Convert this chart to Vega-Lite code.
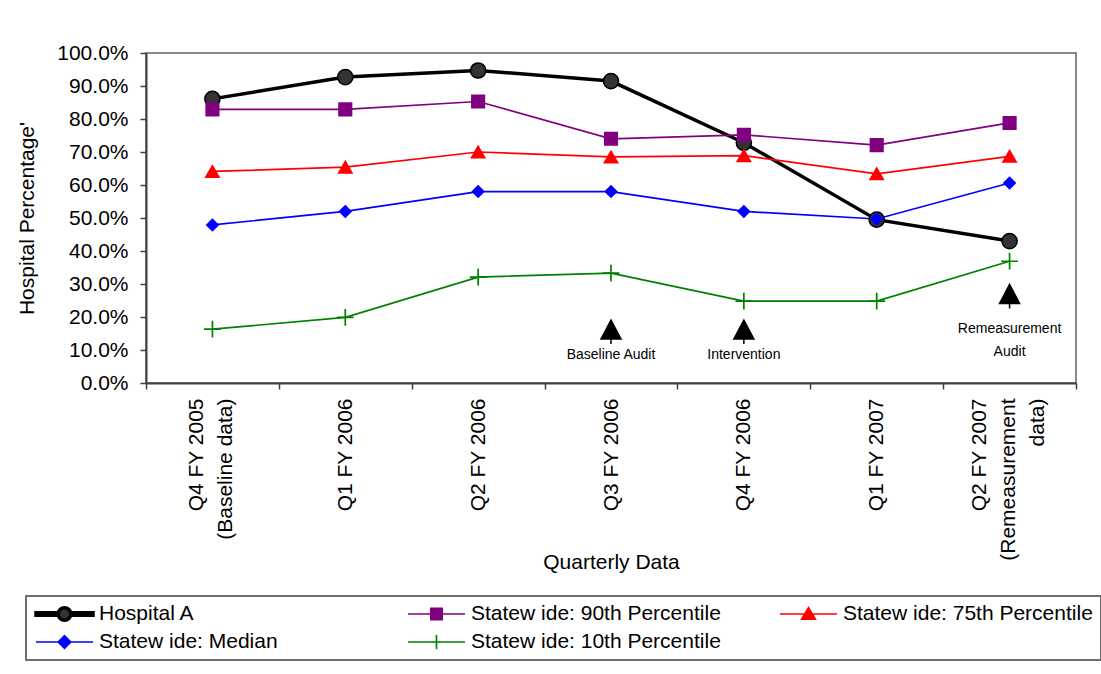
{
  "$schema": "https://vega.github.io/schema/vega-lite/v6.json",
  "width": 930,
  "height": 330,
  "autosize": {"type": "none"},
  "padding": {"left": 146, "top": 53, "right": 25, "bottom": 291},
  "background": "white",
  "config": {
    "font": "Liberation Sans",
    "view": {"stroke": "#888888", "strokeWidth": 2},
    "axis": {
      "labelFont": "Liberation Sans",
      "titleFont": "Liberation Sans",
      "labelColor": "black",
      "titleColor": "black",
      "titleFontWeight": "normal",
      "labelFontSize": 21,
      "titleFontSize": 21,
      "grid": false,
      "domainColor": "#404040",
      "domainWidth": 2,
      "tickColor": "#404040",
      "tickWidth": 1.5
    }
  },
  "datasets": {
    "series": [
      {"q": "Q4 FY 2005|(Baseline data)", "s": "Hospital A", "v": 0.861},
      {"q": "Q1 FY 2006", "s": "Hospital A", "v": 0.927},
      {"q": "Q2 FY 2006", "s": "Hospital A", "v": 0.947},
      {"q": "Q3 FY 2006", "s": "Hospital A", "v": 0.915},
      {"q": "Q4 FY 2006", "s": "Hospital A", "v": 0.728},
      {"q": "Q1 FY 2007", "s": "Hospital A", "v": 0.495},
      {"q": "Q2 FY 2007|(Remeasurement|data)", "s": "Hospital A", "v": 0.430},
      {"q": "Q4 FY 2005|(Baseline data)", "s": "Statew ide: 90th Percentile", "v": 0.829},
      {"q": "Q1 FY 2006", "s": "Statew ide: 90th Percentile", "v": 0.829},
      {"q": "Q2 FY 2006", "s": "Statew ide: 90th Percentile", "v": 0.853},
      {"q": "Q3 FY 2006", "s": "Statew ide: 90th Percentile", "v": 0.740},
      {"q": "Q4 FY 2006", "s": "Statew ide: 90th Percentile", "v": 0.752},
      {"q": "Q1 FY 2007", "s": "Statew ide: 90th Percentile", "v": 0.721},
      {"q": "Q2 FY 2007|(Remeasurement|data)", "s": "Statew ide: 90th Percentile", "v": 0.788},
      {"q": "Q4 FY 2005|(Baseline data)", "s": "Statew ide: 75th Percentile", "v": 0.641},
      {"q": "Q1 FY 2006", "s": "Statew ide: 75th Percentile", "v": 0.654},
      {"q": "Q2 FY 2006", "s": "Statew ide: 75th Percentile", "v": 0.700},
      {"q": "Q3 FY 2006", "s": "Statew ide: 75th Percentile", "v": 0.685},
      {"q": "Q4 FY 2006", "s": "Statew ide: 75th Percentile", "v": 0.689},
      {"q": "Q1 FY 2007", "s": "Statew ide: 75th Percentile", "v": 0.634},
      {"q": "Q2 FY 2007|(Remeasurement|data)", "s": "Statew ide: 75th Percentile", "v": 0.687},
      {"q": "Q4 FY 2005|(Baseline data)", "s": "Statew ide: Median", "v": 0.479},
      {"q": "Q1 FY 2006", "s": "Statew ide: Median", "v": 0.520},
      {"q": "Q2 FY 2006", "s": "Statew ide: Median", "v": 0.580},
      {"q": "Q3 FY 2006", "s": "Statew ide: Median", "v": 0.580},
      {"q": "Q4 FY 2006", "s": "Statew ide: Median", "v": 0.520},
      {"q": "Q1 FY 2007", "s": "Statew ide: Median", "v": 0.497},
      {"q": "Q2 FY 2007|(Remeasurement|data)", "s": "Statew ide: Median", "v": 0.606},
      {"q": "Q4 FY 2005|(Baseline data)", "s": "Statew ide: 10th Percentile", "v": 0.163},
      {"q": "Q1 FY 2006", "s": "Statew ide: 10th Percentile", "v": 0.199},
      {"q": "Q2 FY 2006", "s": "Statew ide: 10th Percentile", "v": 0.321},
      {"q": "Q3 FY 2006", "s": "Statew ide: 10th Percentile", "v": 0.333},
      {"q": "Q4 FY 2006", "s": "Statew ide: 10th Percentile", "v": 0.248},
      {"q": "Q1 FY 2007", "s": "Statew ide: 10th Percentile", "v": 0.248},
      {"q": "Q2 FY 2007|(Remeasurement|data)", "s": "Statew ide: 10th Percentile", "v": 0.369}
    ],
    "arrows": [
      {"q": "Q3 FY 2006", "v": 0.162},
      {"q": "Q4 FY 2006", "v": 0.162},
      {"q": "Q2 FY 2007|(Remeasurement|data)", "v": 0.270}
    ],
    "notes": [
      {"q": "Q3 FY 2006", "v": 0.085, "label": "Baseline Audit"},
      {"q": "Q4 FY 2006", "v": 0.085, "label": "Intervention"},
      {"q": "Q2 FY 2007|(Remeasurement|data)", "v": 0.163, "label": "Remeasurement\nAudit"}
    ]
  },
  "encoding": {
    "x": {
      "field": "q",
      "type": "nominal",
      "scale": {
        "type": "band",
        "paddingInner": 0,
        "paddingOuter": 0,
        "domain": ["Q4 FY 2005|(Baseline data)", "Q1 FY 2006", "Q2 FY 2006", "Q3 FY 2006", "Q4 FY 2006", "Q1 FY 2007", "Q2 FY 2007|(Remeasurement|data)"]
      },
      "axis": {
        "title": "Quarterly Data",
        "labelAngle": -90,
        "labelAlign": "right",
        "labelBaseline": "middle",
        "labelExpr": "split(datum.label, '|')",
        "labelLineHeight": 29,
        "labelOverlap": false,
        "labelLimit": 400,
        "labelOffset": {
          "condition": [
            {"test": "datum.value === 'Q4 FY 2005|(Baseline data)'", "value": -16},
            {"test": "datum.value === 'Q2 FY 2007|(Remeasurement|data)'", "value": -30}
          ],
          "value": 0
        },
        "tickBand": "extent",
        "tickSize": 6,
        "labelPadding": 9,
        "titleY": 168,
        "titleBaseline": "top"
      }
    },
    "y": {
      "field": "v",
      "type": "quantitative",
      "scale": {"domain": [0, 1], "nice": false},
      "axis": {
        "title": "Hospital Percentage'",
        "format": ".1%",
        "values": [0, 0.1, 0.2, 0.3, 0.4, 0.5, 0.6, 0.7, 0.8, 0.9, 1.0],
        "tickSize": 6,
        "labelPadding": 12,
        "titlePadding": 19
      }
    }
  },
  "layer": [
    {
      "data": {"name": "series"},
      "mark": {"type": "line", "clip": false},
      "encoding": {
        "order": {"value": null},
        "color": {
          "field": "s",
          "type": "nominal",
          "scale": {
            "domain": ["Hospital A", "Statew ide: 90th Percentile", "Statew ide: 75th Percentile", "Statew ide: Median", "Statew ide: 10th Percentile"],
            "range": ["#000000", "#800080", "#FF0000", "#0000FF", "#008000"]
          },
          "legend": {
            "title": null,
            "orient": "none",
            "direction": "horizontal",
            "legendX": -120,
            "legendY": 543,
            "columns": 3,
            "gridAlign": "all",
            "labelFont": "Liberation Sans",
            "labelFontSize": 21,
            "labelColor": "black",
            "labelLimit": 500,
            "labelOffset": 4,
            "symbolSize": 3249,
            "symbolStrokeWidth": 2,
            "symbolType": "M-1,0H1",
            "clipHeight": 20,
            "columnPadding": 57,
            "rowPadding": 7,
            "padding": 8,
            "strokeColor": "#6e6e6e",
            "encode": {
              "legend": {
                "update": {
                  "strokeWidth": {"value": 2}
                }
              },
              "symbols": {
                "update": {
                  "shape": {"signal": "datum.value === 'Hospital A' ? 'M-1,-0.04H-0.22V0.04H-1Z M0.22,-0.04H1V0.04H0.22Z M0.22,0A0.22,0.22,0,1,1,-0.22,0A0.22,0.22,0,1,1,0.22,0Z' : datum.value === 'Statew ide: 90th Percentile' ? 'M-1,0H-0.2M0.2,0H1M-0.2,-0.2H0.2V0.2H-0.2Z' : datum.value === 'Statew ide: 75th Percentile' ? 'M-1,0H1M0,-0.22L0.24,0.18L-0.24,0.18Z' : datum.value === 'Statew ide: Median' ? 'M-1,0H1M0,-0.22L0.22,0L0,0.22L-0.22,0Z' : 'M-1,0H1M0,-0.25V0.25'"},
                  "fill": {"signal": "datum.value === 'Hospital A' ? '#333333' : datum.value === 'Statew ide: 90th Percentile' ? '#800080' : datum.value === 'Statew ide: 75th Percentile' ? '#FF0000' : datum.value === 'Statew ide: Median' ? '#0000FF' : 'transparent'"},
                  "stroke": {"signal": "datum.value === 'Hospital A' ? '#000000' : datum.value === 'Statew ide: 90th Percentile' ? '#800080' : datum.value === 'Statew ide: 75th Percentile' ? '#FF0000' : datum.value === 'Statew ide: Median' ? '#0000FF' : '#008000'"},
                  "opacity": {"value": 1}
                }
              }
            }
          }
        },
        "strokeWidth": {
          "field": "s",
          "type": "nominal",
          "scale": {
            "type": "ordinal",
            "domain": ["Hospital A", "Statew ide: 90th Percentile", "Statew ide: 75th Percentile", "Statew ide: Median", "Statew ide: 10th Percentile"],
            "range": [3.5, 1.7, 1.7, 1.7, 1.7]
          },
          "legend": null
        }
      }
    },
    {
      "data": {"name": "series"},
      "transform": [{"filter": "datum.s === 'Hospital A'"}],
      "mark": {"type": "point", "shape": "circle", "size": 231, "filled": true, "fill": "#333333", "stroke": "#000000", "strokeWidth": 1.5, "opacity": 1, "clip": false},
      "encoding": {}
    },
    {
      "data": {"name": "series"},
      "transform": [{"filter": "datum.s === 'Statew ide: 90th Percentile'"}],
      "mark": {"type": "point", "shape": "square", "size": 160, "filled": true, "fill": "#800080", "stroke": "#800080", "strokeWidth": 1.5, "opacity": 1, "clip": false},
      "encoding": {}
    },
    {
      "data": {"name": "series"},
      "transform": [{"filter": "datum.s === 'Statew ide: 75th Percentile'"}],
      "mark": {"type": "point", "shape": "triangle-up", "size": 180, "filled": true, "fill": "#FF0000", "stroke": "#FF0000", "strokeWidth": 1.5, "opacity": 1, "clip": false},
      "encoding": {}
    },
    {
      "data": {"name": "series"},
      "transform": [{"filter": "datum.s === 'Statew ide: Median'"}],
      "mark": {"type": "point", "shape": "diamond", "size": 130, "filled": true, "fill": "#0000FF", "stroke": "#0000FF", "strokeWidth": 1.5, "opacity": 1, "clip": false},
      "encoding": {}
    },
    {
      "data": {"name": "series"},
      "transform": [{"filter": "datum.s === 'Statew ide: 10th Percentile'"}],
      "mark": {"type": "point", "shape": "M-1,0H1M0,-1V1", "size": 280, "filled": false, "stroke": "#008000", "strokeWidth": 1.7, "opacity": 1, "clip": false},
      "encoding": {}
    },
    {
      "data": {"name": "arrows"},
      "mark": {
        "type": "point",
        "shape": "M0,-0.95L1,0.95L-1,0.95Z M0,0.95V1.45",
        "size": 400,
        "filled": true,
        "fill": "black",
        "stroke": "black",
        "strokeWidth": 1.5,
        "opacity": 1,
        "clip": false
      },
      "encoding": {}
    },
    {
      "data": {"name": "notes"},
      "mark": {
        "type": "text",
        "font": "Liberation Sans",
        "fontSize": 14,
        "color": "black",
        "align": "center",
        "baseline": "middle",
        "lineBreak": "\n",
        "lineHeight": 23,
        "clip": false
      },
      "encoding": {"text": {"field": "label"}}
    }
  ]
}
